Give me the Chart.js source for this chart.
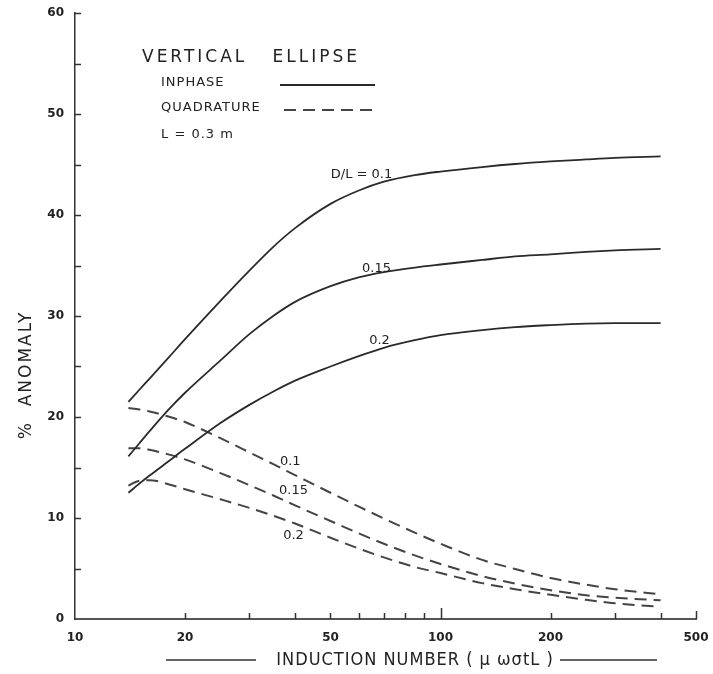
<!DOCTYPE html>
<html><head><meta charset="utf-8">
<script src="https://cdn.jsdelivr.net/npm/chart.js@4/dist/chart.umd.min.js"></script>
<style>html,body{margin:0;padding:0;background:#fff;}</style>
</head><body>
<canvas id="c" width="713" height="674"></canvas>
<script>
// ---- data ----
const induction = [14,15,16,18,20,25,30,35,40,50,60,70,85,100,130,160,200,250,300,400];
const inphase010 = [21.5,22.7,23.8,25.85,27.7,31.5,34.5,36.9,38.7,41.1,42.45,43.3,43.95,44.3,44.75,45.05,45.3,45.5,45.65,45.8];
const inphase015 = [16.1,17.4,18.6,20.7,22.4,25.6,28.2,30.05,31.4,32.95,33.85,34.35,34.8,35.1,35.55,35.9,36.1,36.35,36.5,36.65];
const inphase020 = [12.5,13.4,14.2,15.6,16.85,19.4,21.2,22.55,23.6,25.0,26.05,26.85,27.6,28.1,28.6,28.9,29.1,29.25,29.3,29.3];
const quad010 = [20.9,20.75,20.55,20.05,19.5,17.9,16.5,15.3,14.25,12.5,11.1,9.95,8.55,7.45,5.85,4.95,4.05,3.4,2.95,2.45];
const quad015 = [16.9,16.9,16.75,16.3,15.8,14.45,13.25,12.2,11.25,9.7,8.45,7.45,6.3,5.45,4.25,3.5,2.85,2.35,2.1,1.85];
const quad020 = [13.2,13.7,13.75,13.35,12.85,11.85,11.0,10.2,9.45,8.05,6.95,6.1,5.15,4.55,3.55,2.95,2.4,1.9,1.55,1.2];
const xTickValues = [10,20,30,40,50,60,70,80,90,100,200,300,400,500];
const xTickLabels = ['10','20','50','100','200','500'];
const yTickValues = [0,5,10,15,20,25,30,35,40,45,50,55,60];
const yTickLabels = ['0','10','20','30','40','50','60'];
const curveLabelText = ['D/L = 0.1','0.15','0.2','0.1','0.15','0.2'];
const curveLabelX = [60.8,66.8,68.1,38.8,39.6,39.6];
const curveLabelY = [44.0,34.65,27.6,15.6,12.7,8.3];

const pts = arr => induction.map((x,i)=>({x:x,y:arr[i]}));
const solid = {borderColor:'#2a2a2a',borderWidth:1.8,pointRadius:0,fill:false,cubicInterpolationMode:'monotone'};
const dashed = {borderColor:'#444',borderWidth:2,borderDash:[12,7],pointRadius:0,fill:false,cubicInterpolationMode:'monotone'};

const FONT = "'DejaVu Sans', sans-serif";

const deco = {
  id:'deco',
  afterDraw(chart){
    const ctx = chart.ctx, xs = chart.scales.x, ys = chart.scales.y, a = chart.chartArea;
    ctx.save();
    ctx.strokeStyle = '#333'; ctx.lineWidth = 1.5;
    yTickValues.forEach(v=>{
      if (v===0) return;
      const py = Math.round(ys.getPixelForValue(v))+0.5;
      ctx.beginPath(); ctx.moveTo(a.left,py); ctx.lineTo(a.left+6,py); ctx.stroke();
    });
    xTickValues.forEach(v=>{
      if (v===10) return;
      const px = Math.round(xs.getPixelForValue(v))+0.5;
      const len = v===100 ? 11 : (v===500 ? 8 : 6);
      ctx.beginPath(); ctx.moveTo(px,a.bottom); ctx.lineTo(px,a.bottom-len); ctx.stroke();
    });
    // legend block
    ctx.fillStyle = '#222'; ctx.textBaseline = 'middle'; ctx.textAlign = 'left';
    ctx.font = "17px " + FONT; ctx.letterSpacing = '3px';
    ctx.fillText('VERTICAL   ELLIPSE', 142, 58);
    ctx.letterSpacing = '1px';
    ctx.font = "13px " + FONT;
    ctx.fillText('INPHASE', 161, 83);
    ctx.fillText('QUADRATURE', 161, 108);
    ctx.fillText('L = 0.3 m', 161, 135);
    ctx.letterSpacing = '0px';
    ctx.strokeStyle = '#2a2a2a'; ctx.lineWidth = 1.8;
    ctx.beginPath(); ctx.moveTo(280,85); ctx.lineTo(375,85); ctx.stroke();
    ctx.strokeStyle = '#444'; ctx.lineWidth = 2; ctx.setLineDash([12,7]);
    ctx.beginPath(); ctx.moveTo(284,110); ctx.lineTo(375,110); ctx.stroke();
    ctx.setLineDash([]);
    // curve labels
    ctx.font = "13px " + FONT; ctx.textAlign = 'center';
    curveLabelText.forEach((t,i)=>{
      ctx.fillText(t, xs.getPixelForValue(curveLabelX[i]), ys.getPixelForValue(curveLabelY[i]));
    });
    // y title
    ctx.save();
    ctx.translate(27, 375); ctx.rotate(-Math.PI/2);
    ctx.font = "17px " + FONT; ctx.letterSpacing = '2px';
    ctx.textAlign = 'center';
    ctx.fillText('%  ANOMALY', 0, 0);
    ctx.restore();
    // x title
    ctx.font = "18px 'DejaVu Sans Condensed', 'DejaVu Sans', sans-serif";
    ctx.letterSpacing = '1px';
    ctx.textAlign = 'center';
    const ty = 660;
    ctx.fillText('INDUCTION NUMBER ( \u03bc \u03c9\u03c3tL )', 415, ty);
    ctx.strokeStyle = '#333'; ctx.lineWidth = 1.5;
    ctx.beginPath(); ctx.moveTo(166, ty); ctx.lineTo(256, ty); ctx.stroke();
    ctx.beginPath(); ctx.moveTo(560, ty); ctx.lineTo(657, ty); ctx.stroke();
    ctx.restore();
  }
};

new Chart(document.getElementById('c'), {
  type:'line',
  data:{datasets:[
    Object.assign({label:'Inphase D/L=0.1',data:pts(inphase010)},solid),
    Object.assign({label:'Inphase D/L=0.15',data:pts(inphase015)},solid),
    Object.assign({label:'Inphase D/L=0.2',data:pts(inphase020)},solid),
    Object.assign({label:'Quadrature D/L=0.1',data:pts(quad010)},dashed),
    Object.assign({label:'Quadrature D/L=0.15',data:pts(quad015)},dashed),
    Object.assign({label:'Quadrature D/L=0.2',data:pts(quad020)},dashed)
  ]},
  options:{
    responsive:false, animation:false, devicePixelRatio:1,
    layout:{padding:{top:13,right:17,left:0,bottom:0}},
    plugins:{legend:{display:false},tooltip:{enabled:false}},
    scales:{
      x:{type:'logarithmic',min:10,max:500,
        afterBuildTicks:s=>{s.ticks=xTickValues.map(v=>({value:v}));},
        ticks:{autoSkip:false,maxRotation:0,minRotation:0,padding:4,color:'#222',
          font:{family:'DejaVu Sans',weight:'bold',size:12},
          callback:v=>xTickLabels.includes(String(v))?String(v):''},
        grid:{display:false},
        border:{display:true,color:'#555',width:2},
        afterFit:s=>{s.height=55;s.paddingLeft=0;s.paddingRight=0;}
      },
      y:{min:0,max:60,
        afterBuildTicks:s=>{s.ticks=yTickValues.map(v=>({value:v}));},
        ticks:{autoSkip:false,padding:3,color:'#222',
          font:{family:'DejaVu Sans',weight:'bold',size:12},
          callback:v=>yTickLabels.includes(String(v))?String(v):''},
        grid:{display:false},
        border:{display:true,color:'#333',width:1.5},
        afterFit:s=>{s.width=75;s.paddingTop=0;s.paddingBottom=0;}
      }
    }
  },
  plugins:[deco]
});
</script>
</body></html>
